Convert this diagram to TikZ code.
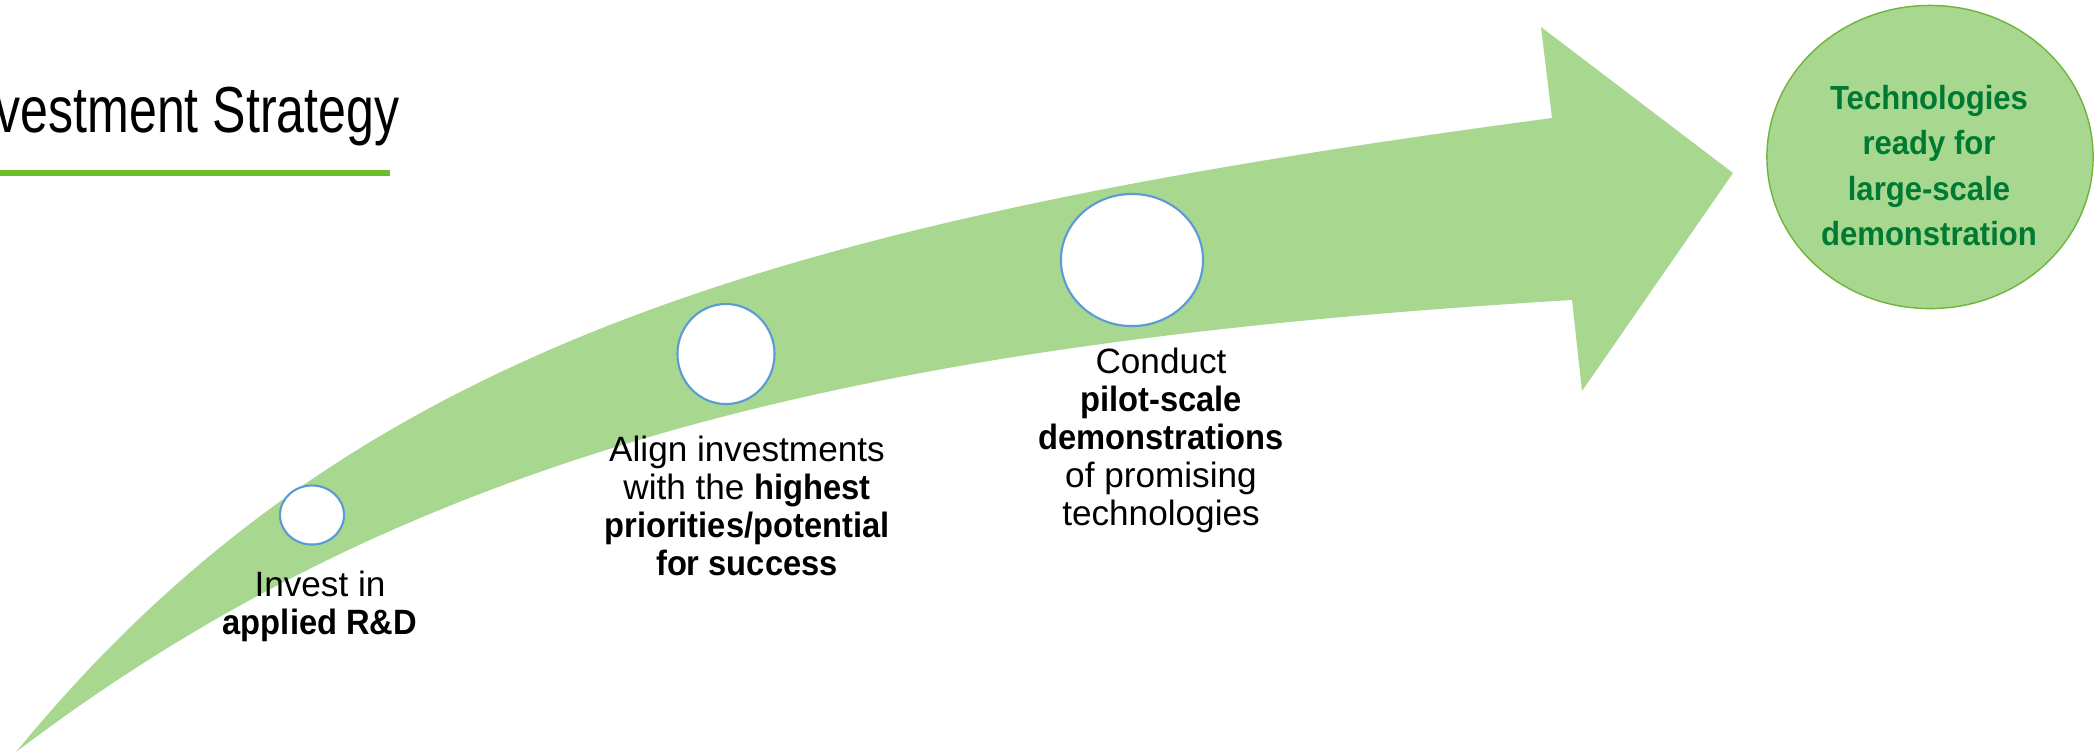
\documentclass[tikz,border=0pt]{standalone}
\usepackage{fontspec}
\usepackage{graphicx}
\setmainfont{Liberation Sans}[BoldFeatures={FakeStretch=0.93}]
\newfontfamily\titlefont{Liberation Sans}[FakeStretch=0.77]
\usetikzlibrary{shapes.geometric}
\definecolor{arrowfill}{RGB}{168,215,143}
\definecolor{ringblue}{RGB}{91,155,213}
\definecolor{barline}{RGB}{107,189,41}
\definecolor{goaledge}{RGB}{112,180,60}
\definecolor{goaltext}{RGB}{0,122,51}
\tikzset{
  ring/.style={ellipse, draw=ringblue, line width=0.6pt, fill=white, inner sep=0pt},
  steptext/.style={align=center, inner sep=0pt, anchor=base, font=\fontsize{10}{10.8}\selectfont},
  goalnode/.style={ellipse, draw=goaledge, line width=0.4pt, fill=arrowfill, inner sep=0pt},
  goaltextstyle/.style={align=center, inner sep=0pt, anchor=base, text=goaltext, font=\fontsize{9.5}{12.8}\selectfont\bfseries}
}
\begin{document}
\begin{tikzpicture}[x=0.01cm, y=-0.01cm]
\useasboundingbox (0,0) rectangle (2096,753);
\begin{scope}
\clip (0,0) rectangle (2096,753);
% big curved arrow
\fill[arrowfill] (16,752) .. controls (346,349) and (772,222) .. (1552,118)
  -- (1541,27) -- (1733,173) -- (1582,391) -- (1572,300)
  .. controls (872,342) and (416,448) .. (16,752) -- cycle;
% goal ellipse
\node[goalnode, minimum width=3.26cm, minimum height=3.03cm] (goal) at (1930,157) {};
\end{scope}
% title
\node[anchor=base east, inner sep=0pt, font=\titlefont\fontsize{18.5}{22}\selectfont] (title) at (400,132) {vestment Strategy};
\fill[barline] (0,170) rectangle (390,176);
% milestones
\node[ring, minimum width=0.64cm, minimum height=0.59cm] (c1) at (312,515) {};
\node[ring, minimum width=0.97cm, minimum height=1.00cm] (c2) at (726,354) {};
\node[ring, minimum width=1.42cm, minimum height=1.32cm] (c3) at (1132,260) {};
% labels (anchor base = baseline of last line)
\node[steptext] (t1) at (320,634) {Invest in\\\textbf{applied R\&D}};
\node[steptext] (t2) at (747,575) {Align investments\\with the \textbf{highest}\\\textbf{priorities/potential}\\\textbf{for success}};
\node[steptext] (t3) at (1161,525) {Conduct\\\textbf{pilot-scale}\\\textbf{demonstrations}\\of promising\\technologies};
\node[goaltextstyle] (gt) at (1929,245) {Technologies\\ready for\\large-scale\\demonstration};
\end{tikzpicture}
\end{document}
